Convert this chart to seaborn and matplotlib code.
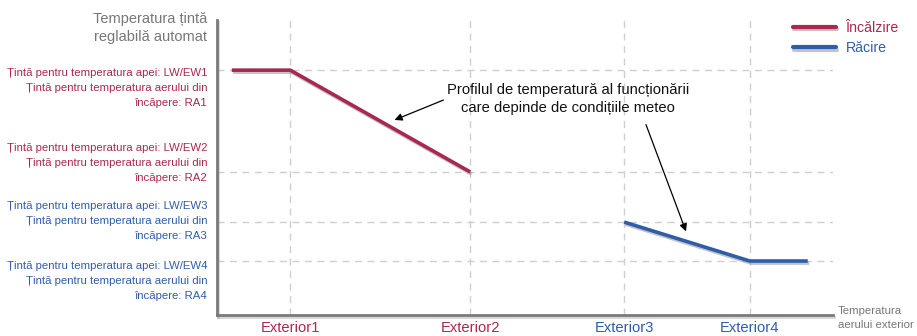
import matplotlib
matplotlib.use("Agg")
import matplotlib.pyplot as plt
import matplotlib.patheffects as pe
from matplotlib.lines import Line2D
from matplotlib.patches import FancyArrowPatch
import pandas as pd
import seaborn as sns

# Set-point levels (vertical axis) and outdoor temperature points (horizontal axis)
levels = [83.0, 48.5, 31.5, 18.3]
exterior = [11.9, 41.1, 66.1, 86.5]
exterior_labels = ["Exterior1", "Exterior2", "Exterior3", "Exterior4"]
level_labels = [
    "Țintă pentru temperatura apei: LW/EW1\nȚintă pentru temperatura aerului din\nîncăpere: RA1",
    "Țintă pentru temperatura apei: LW/EW2\nȚintă pentru temperatura aerului din\nîncăpere: RA2",
    "Țintă pentru temperatura apei: LW/EW3\nȚintă pentru temperatura aerului din\nîncăpere: RA3",
    "Țintă pentru temperatura apei: LW/EW4\nȚintă pentru temperatura aerului din\nîncăpere: RA4",
]

# Weather-dependent curves
heat_x = [2.4, 11.9, 41.1]
heat_y = [83.0, 83.0, 48.5]
cool_x = [66.1, 86.5, 95.9]
cool_y = [31.5, 18.3, 18.3]
series_names = ["Încălzire", "Răcire"]

RED = "#A8294F"
BLUE = "#2F5DAA"
GREY = "#7a7a7a"
label_colors = [RED, RED, BLUE, BLUE]

sns.set_theme(style="white")
plt.rcParams["font.family"] = ["Liberation Sans", "DejaVu Sans"]

df = pd.DataFrame({
    "x": heat_x + cool_x,
    "y": heat_y + cool_y,
    "mod": [series_names[0]] * len(heat_x) + [series_names[1]] * len(cool_x),
})

fig = plt.figure(figsize=(9.17, 3.36), dpi=100)
ax = fig.add_axes([217 / 917, 21 / 336, 616 / 917, 295 / 336])
ax.set_xlim(0, 100)
ax.set_ylim(0, 100)

# Dashed reference grid
for lv in levels:
    ax.axhline(lv, color="#cfcfcf", lw=1, ls=(0, (5, 4)), zorder=1)
for ex in exterior:
    ax.axvline(ex, color="#cfcfcf", lw=1, ls=(0, (5, 4)), zorder=1)

shadow = [pe.SimpleLineShadow(offset=(1, -1.5), shadow_color="#888888", alpha=0.5), pe.Normal()]
sns.lineplot(data=df, x="x", y="y", hue="mod", palette=[RED, BLUE], lw=2.6,
             sort=False, estimator=None, legend=False, ax=ax, zorder=3)
for ln in ax.lines[-2:]:
    ln.set_path_effects(shadow)
    ln.set_solid_capstyle("butt")

# Axes styling
for side in ("top", "right"):
    ax.spines[side].set_visible(False)
for side in ("left", "bottom"):
    ax.spines[side].set_color(GREY)
    ax.spines[side].set_linewidth(2)
    ax.spines[side].set_path_effects([pe.SimpleLineShadow(offset=(1, -1.5), shadow_color="#999999", alpha=0.4), pe.Normal()])

ax.set_xlabel("")
ax.set_ylabel("")
ax.set_yticks([])
ax.set_xticks(exterior)
ax.set_xticklabels(exterior_labels, fontsize=10.6)
ax.tick_params(axis="x", length=0, pad=4)
for t, c in zip(ax.get_xticklabels(), label_colors):
    t.set_color(c)

# Multi-line level labels on the left
label_y = [76.9, 51.5, 31.9, 11.5]
for ly, txt, c in zip(label_y, level_labels, label_colors):
    ax.text(-0.016, ly, txt, transform=ax.get_yaxis_transform(), ha="right", va="center",
            color=c, fontsize=8.2, linespacing=1.62)

# Axis titles
fig.text(207 / 917, 1 - 28 / 336, "Temperatura țintă\nreglabilă automat", ha="right", va="center",
         color="#777777", fontsize=10.5, linespacing=1.4)
fig.text(838 / 917, 1 - 318 / 336, "Temperatura\naerului exterior", ha="left", va="center",
         color="#777777", fontsize=8.2, linespacing=1.55)

# Annotation with two arrows
note = "Profilul de temperatură al funcționării\ncare depinde de condițiile meteo"
fig.text(568 / 917, 1 - 99 / 336, note, ha="center", va="center", fontsize=10.6,
         color="#111111", linespacing=1.4)
arrow = dict(arrowstyle="-|>", color="black", lw=0.9, mutation_scale=11)
fig.add_artist(FancyArrowPatch((446 / 917, 1 - 99 / 336), (392 / 917, 1 - 121 / 336),
                               transform=fig.transFigure, **arrow))
fig.add_artist(FancyArrowPatch((645 / 917, 1 - 122 / 336), (687 / 917, 1 - 234 / 336),
                               transform=fig.transFigure, **arrow))

# Legend
handles = [Line2D([], [], color=RED, lw=3, path_effects=shadow),
           Line2D([], [], color=BLUE, lw=3, path_effects=shadow)]
leg = fig.legend(handles, series_names, loc="upper left", bbox_to_anchor=(786 / 917, 1 - 14 / 336),
                 frameon=False, fontsize=10.2, handlelength=3.0, handletextpad=0.7, labelspacing=0.45,
                 borderpad=0)
for t, c in zip(leg.get_texts(), [RED, BLUE]):
    t.set_color(c)

fig.savefig("out.png", dpi=100, facecolor="white")
